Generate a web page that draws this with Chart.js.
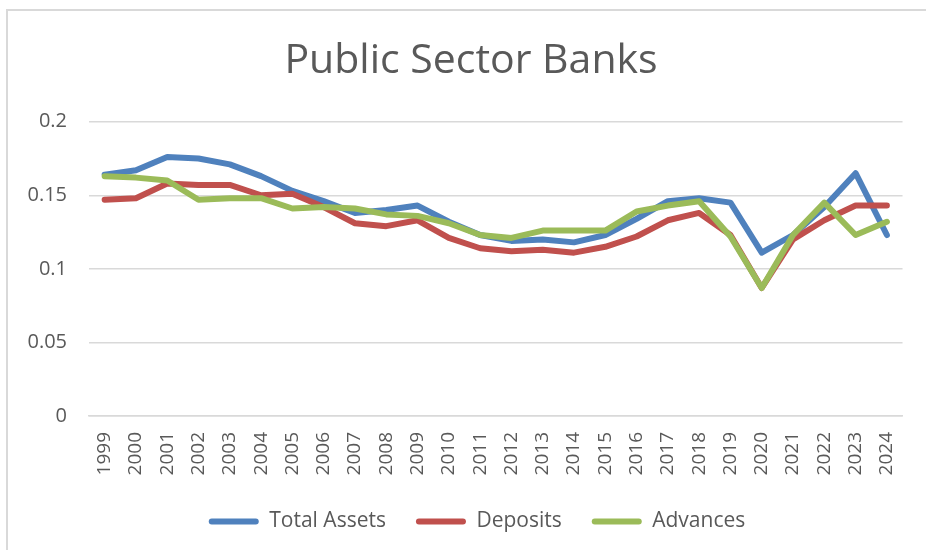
<!DOCTYPE html>
<html>
<head>
<meta charset="utf-8">
<script src="https://cdn.jsdelivr.net/npm/chart.js@4/dist/chart.umd.min.js"></script>
<style>
  html, body { margin: 0; padding: 0; background: #fff; }
  #frame {
    position: absolute; left: 0; top: 0; width: 926px; height: 550px; overflow: hidden;
  }
  #border {
    position: absolute; left: 6px; top: 9px; width: 1000px; height: 700px;
    border: 2px solid #d9d9d9; box-sizing: border-box;
  }
  #wrap { position: absolute; left: 0; top: 0; width: 926px; height: 550px; }
</style>
</head>
<body>
<div id="frame">
  <div id="border"></div>
  <div id="wrap"><canvas id="c" width="926" height="550"></canvas></div>
</div>
<script>
// Years on the category axis
const years = ['1999','2000','2001','2002','2003','2004','2005','2006','2007','2008','2009','2010',
  '2011','2012','2013','2014','2015','2016','2017','2018','2019','2020','2021','2022','2023','2024'];

// Share of public sector banks, by measure
const totalAssets = [0.164,0.167,0.176,0.175,0.171,0.163,0.153,0.146,0.138,0.140,0.143,0.132,
  0.123,0.119,0.120,0.118,0.123,0.134,0.146,0.148,0.145,0.111,0.123,0.142,0.165,0.123];
const deposits = [0.147,0.148,0.158,0.157,0.157,0.150,0.151,0.142,0.131,0.129,0.133,0.121,
  0.114,0.112,0.113,0.111,0.115,0.122,0.133,0.138,0.123,0.087,0.120,0.133,0.143,0.143];
const advances = [0.163,0.162,0.160,0.147,0.148,0.148,0.141,0.142,0.141,0.137,0.136,0.131,
  0.123,0.121,0.126,0.126,0.126,0.139,0.143,0.146,0.122,0.087,0.123,0.145,0.123,0.132];

const yTicks = [0, 0.05, 0.1, 0.15, 0.2];

const FONT = '"Open Sans", sans-serif';
const TXT = '#595959';
const GRID = '#d9d9d9';

// later series are painted over earlier ones
function series(label, data, color, order) {
  return {
    label, data, order,
    borderColor: color, backgroundColor: color,
    borderWidth: 6, pointRadius: 0, pointHoverRadius: 0,
    tension: 0, borderCapStyle: 'round', borderJoinStyle: 'round', fill: false
  };
}

// centre the title and legend on the full frame rather than the plot
const headerShift = {
  id: 'headerShift',
  afterLayout(chart) {
    if (chart.titleBlock) { chart.titleBlock.left += 16; chart.titleBlock.right += 16; }
    if (chart.legend) { chart.legend.left += 22; chart.legend.right += 22; }
  }
};

new Chart(document.getElementById('c'), {
  type: 'line',
  data: {
    labels: years,
    datasets: [
      series('Total Assets', totalAssets, '#4f81bd', 3),
      series('Deposits', deposits, '#c0504d', 2),
      series('Advances', advances, '#9bbb59', 1)
    ]
  },
  plugins: [headerShift],
  options: {
    responsive: false,
    animation: false,
    layout: { padding: { left: 0, right: 16, top: 0, bottom: 8 } },
    plugins: {
      tooltip: { enabled: false },
      title: {
        display: true,
        text: 'Public Sector Banks',
        color: TXT,
        font: { family: FONT, size: 41, weight: 'normal' },
        padding: { top: 37, bottom: 35.5 }
      },
      legend: {
        position: 'bottom',
        labels: {
          color: TXT,
          font: { family: FONT, size: 21 },
          boxWidth: 50, boxHeight: 6,
          padding: 30,
          sort: (a, b) => a.datasetIndex - b.datasetIndex,
          generateLabels(chart) {
            const items = Chart.defaults.plugins.legend.labels.generateLabels(chart);
            items.forEach(it => { it.lineWidth = 0; it.borderRadius = 3; });
            return items;
          }
        }
      }
    },
    scales: {
      x: {
        offset: true,
        grid: { display: false, drawTicks: false },
        border: { display: true, color: GRID, width: 1.5 },
        ticks: {
          color: TXT, font: { family: FONT, size: 19 },
          minRotation: 90, maxRotation: 90, autoSkip: false, padding: 16
        },
        afterFit(s) { s.height = 65; }
      },
      y: {
        min: 0, max: 0.2,
        afterBuildTicks(s) { s.ticks = yTicks.map(v => ({ value: v })); },
        grid: { color: GRID, lineWidth: 1.5, drawTicks: false },
        border: { display: false },
        ticks: {
          color: TXT, font: { family: FONT, size: 20 }, padding: 22,
          callback: v => String(v)
        },
        afterFit(s) { s.width = 89; }
      }
    }
  }
});
</script>
</body>
</html>
